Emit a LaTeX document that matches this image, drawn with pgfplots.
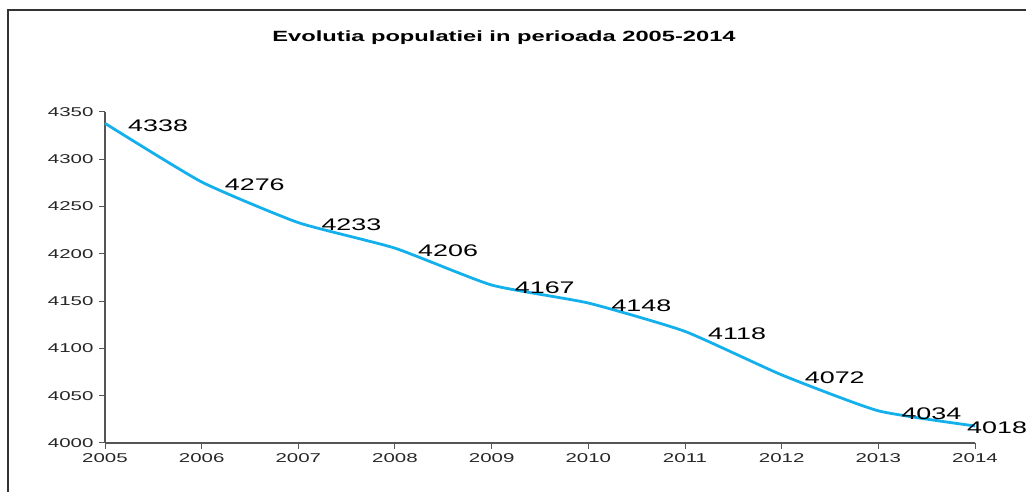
\documentclass[border=0pt]{standalone}
\usepackage{fontspec}
\setmainfont{Liberation Sans}[FakeStretch=1.6]
\usepackage{pgfplots}
\pgfplotsset{compat=1.18}
\definecolor{lineblue}{RGB}{20,176,235}
\definecolor{axisgray}{RGB}{85,85,85}
\begin{document}
\begin{tikzpicture}[x=1bp,y=1bp]
\useasboundingbox (0,0) rectangle (1026,492);
% frame of the chart area
\draw[line width=1.5bp,black!80] (8,0) -- (8,482) -- (1026,482);
% title
\node[font=\fontsize{14.8bp}{16bp}\selectfont\bfseries] at (504,454) {Evolutia populatiei in perioada 2005-2014};
\begin{axis}[
  at={(105bp,49bp)}, anchor=south west,
  width=870bp, height=331bp, scale only axis,
  xmin=2005, xmax=2014, ymin=4000, ymax=4350,
  axis lines*=left,
  axis line style={axisgray, line width=1.2bp},
  tick style={axisgray, line width=1bp},
  tick align=outside, major tick length=6bp,
  xtick={2005,2006,...,2014},
  ytick={4000,4050,...,4350},
  /pgf/number format/assume math mode=true,
  /pgf/number format/1000 sep={},
  tick label style={font=\fontsize{12.8bp}{14bp}\selectfont, black!85},
  xticklabel style={yshift=-1bp},
  yticklabel style={xshift=-2bp},
  clip=false,
]
\addplot[lineblue, line width=2.8bp, smooth, tension=0.3] coordinates {
  (2005,4338) (2006,4276) (2007,4233) (2008,4206) (2009,4167)
  (2010,4148) (2011,4118) (2012,4072) (2013,4034) (2014,4018)
};
% value labels
\addplot[draw=none, mark=none, nodes near coords, point meta=explicit symbolic,
  every node near coord/.append style={anchor=west, inner sep=0pt, xshift=23bp, yshift=-2.5bp,
    font=\fontsize{16.8bp}{18bp}\selectfont, text=black}]
  coordinates {
  (2005,4338) [4338] (2006,4276) [4276] (2007,4233) [4233] (2008,4206) [4206]
  (2009,4167) [4167] (2010,4148) [4148] (2011,4118) [4118] (2012,4072) [4072]
  (2013,4034) [4034]
};
\addplot[draw=none, mark=none, nodes near coords, point meta=explicit symbolic,
  every node near coord/.append style={anchor=west, inner sep=0pt, xshift=-8bp, yshift=-2bp,
    font=\fontsize{16.8bp}{18bp}\selectfont, text=black}]
  coordinates {(2014,4018) [4018]};
\end{axis}
\end{tikzpicture}
\end{document}
